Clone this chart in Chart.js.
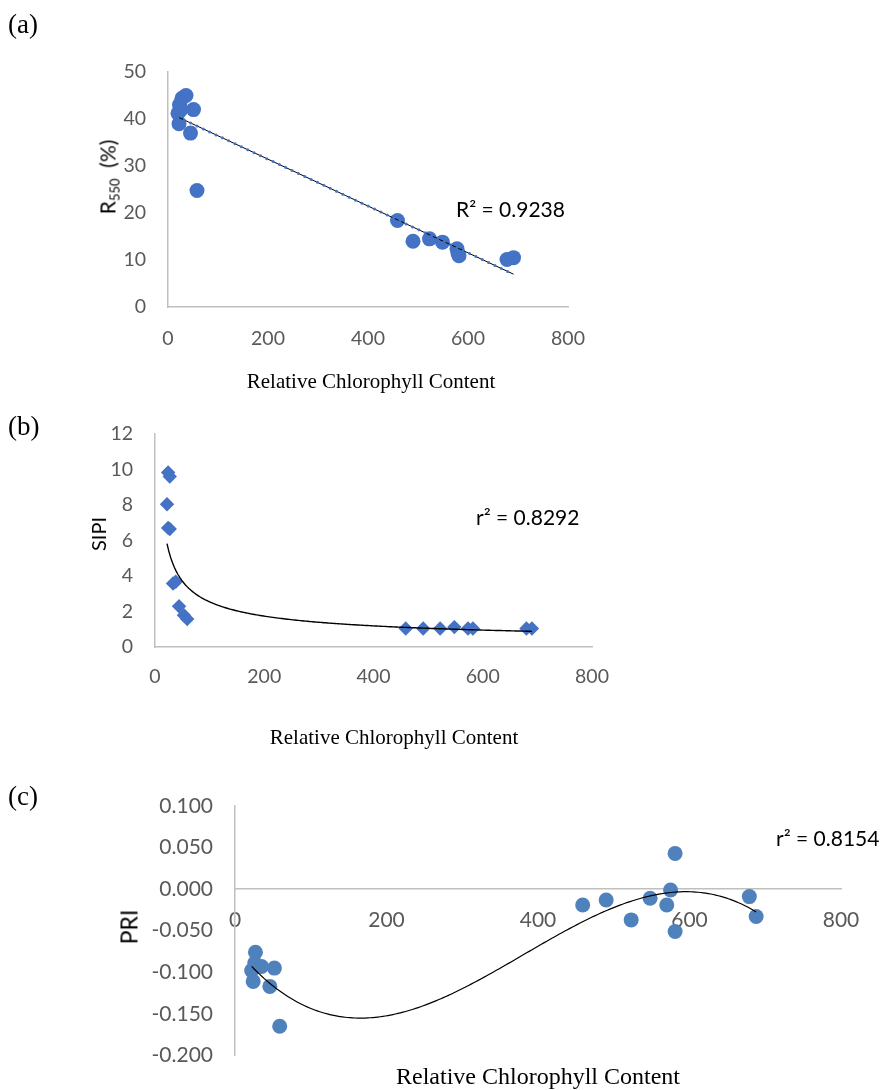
<!DOCTYPE html>
<html><head><meta charset="utf-8">
<script src="https://cdn.jsdelivr.net/npm/chart.js@4/dist/chart.umd.min.js"></script>
<style>
html,body{margin:0;padding:0;background:#fff;}
body{width:881px;height:1090px;position:relative;overflow:hidden;}
canvas{position:absolute;left:0;}
.t{position:absolute;white-space:nowrap;line-height:1;transform:translate(-50%,-50%);color:#000;}
.l{position:absolute;white-space:nowrap;line-height:1;transform:translate(0,-50%);color:#000;}
.serif{font-family:"Liberation Serif","Times New Roman",serif;}
.sans{font-family:Lato,"Open Sans",sans-serif;}
sub{font-size:0.62em;vertical-align:-0.3em;line-height:0;}
</style></head><body>
<canvas id="ca" width="881" height="400" style="top:0px"></canvas>
<canvas id="cb" width="881" height="370" style="top:400px"></canvas>
<canvas id="cc" width="881" height="320" style="top:770px"></canvas>

<div class="l serif" style="left:8px;top:24px;font-size:27px">(a)</div>
<div class="l serif" style="left:8px;top:426px;font-size:27px">(b)</div>
<div class="l serif" style="left:8px;top:796px;font-size:27px">(c)</div>

<div class="t sans" style="left:107px;top:177px;font-size:21px;transform:translate(-50%,-50%) rotate(-90deg)">R<sub>550</sub>&nbsp; (%)</div>
<div class="t sans" style="left:98px;top:534px;font-size:20px;transform:translate(-50%,-50%) rotate(-90deg)">SIPI</div>
<div class="t sans" style="left:129px;top:927px;font-size:23px;transform:translate(-50%,-50%) rotate(-90deg)">PRI</div>

<div class="t serif" style="left:371px;top:381px;font-size:21px">Relative Chlorophyll Content</div>
<div class="t serif" style="left:394px;top:737px;font-size:21px">Relative Chlorophyll Content</div>
<div class="t serif" style="left:538px;top:1076px;font-size:24px">Relative Chlorophyll Content</div>

<div class="l sans" style="left:456px;top:208px;font-size:21px">R² = 0.9238</div>
<div class="l sans" style="left:476px;top:516px;font-size:21px">r² = 0.8292</div>
<div class="l sans" style="left:776px;top:837px;font-size:21px">r² = 0.8154</div>

<script>
// ---- data ----
const xTicks = [0, 200, 400, 600, 800];

// (a) R550 (%)
const xA = [20, 23, 26, 28, 36, 51, 22, 45, 58, 459, 490, 523, 549, 578, 580, 582, 678, 691];
const yA = [41.2, 43.0, 42.0, 44.4, 45.0, 42.0, 39.0, 37.0, 24.8, 18.4, 14.0, 14.5, 13.8, 12.4, 11.4, 10.9, 10.1, 10.5];
const yTicksA = [0, 10, 20, 30, 40, 50];

// (b) SIPI
const xB = [24, 27, 22, 24, 27, 33, 38, 44, 53, 59, 459, 491, 522, 548, 573, 582, 680, 690];
const yB = [9.82, 9.59, 8.03, 6.70, 6.64, 3.57, 3.67, 2.29, 1.79, 1.57, 1.04, 1.04, 1.04, 1.12, 1.04, 1.04, 1.04, 1.04];
const yTicksB = [0, 2, 4, 6, 8, 10, 12];

// (c) PRI
const xC = [27, 26, 35, 52, 22, 24, 46, 59, 459, 490, 523, 548, 570, 575, 581, 581, 679, 688];
const yC = [-0.076, -0.089, -0.093, -0.095, -0.098, -0.111, -0.117, -0.165, -0.019, -0.013, -0.037, -0.011, -0.019, -0.001, 0.043, -0.051, -0.009, -0.033];
const yTicksC = [-0.2, -0.15, -0.1, -0.05, 0, 0.05, 0.1];

// ---- regression trendlines computed from the data ----
function linCoef(xs, ys) {
  const n = xs.length;
  const mx = xs.reduce((s, v) => s + v, 0) / n, my = ys.reduce((s, v) => s + v, 0) / n;
  let sxy = 0, sxx = 0;
  for (let i = 0; i < n; i++) { sxy += (xs[i] - mx) * (ys[i] - my); sxx += (xs[i] - mx) ** 2; }
  const b = sxy / sxx;
  return [my - b * mx, b];
}
function linFit(xs, ys) { const [a, b] = linCoef(xs, ys); return x => a + b * x; }
function powFit(xs, ys) {
  const [a, b] = linCoef(xs.map(Math.log), ys.map(Math.log));
  const c = Math.exp(a);
  return x => c * Math.pow(x, b);
}
function polyFit(xs, ys, deg) {
  const s = 100, m = deg + 1;
  const A = Array.from({length: m}, () => new Array(m + 1).fill(0));
  for (let i = 0; i < xs.length; i++) {
    const u = xs[i] / s;
    for (let r = 0; r < m; r++) {
      for (let c = 0; c < m; c++) A[r][c] += Math.pow(u, r + c);
      A[r][m] += ys[i] * Math.pow(u, r);
    }
  }
  for (let p = 0; p < m; p++) {
    let best = p;
    for (let r = p + 1; r < m; r++) if (Math.abs(A[r][p]) > Math.abs(A[best][p])) best = r;
    [A[p], A[best]] = [A[best], A[p]];
    for (let r = 0; r < m; r++) {
      if (r === p) continue;
      const f = A[r][p] / A[p][p];
      for (let c = p; c <= m; c++) A[r][c] -= f * A[p][c];
    }
  }
  const coef = A.map((row, i) => row[m] / row[i]);
  return x => coef.reduce((sum, c, k) => sum + c * Math.pow(x / s, k), 0);
}
function curve(f, xs, n) {
  const lo = Math.min(...xs), hi = Math.max(...xs);
  const pts = [];
  for (let i = 0; i <= n; i++) { const x = lo + (hi - lo) * i / n; pts.push({x, y: f(x)}); }
  return pts;
}
const pts = (xs, ys) => xs.map((x, i) => ({x, y: ys[i]}));

// ---- chart helpers ----
const AXIS = '#bfbfbf', TICK = '#595959', FONT = 'Lato';
function xScale(fs, pad, pos, h) {
  const o = {
    type: 'linear', min: 0, max: 800, position: pos,
    afterBuildTicks: s => { s.ticks = xTicks.map(v => ({value: v})); },
    ticks: {color: TICK, font: {family: FONT, size: fs}, padding: pad, autoSkip: false, maxRotation: 0},
    grid: {display: false, drawTicks: false},
    border: {display: true, color: AXIS, width: 1.5}
  };
  if (h !== undefined) o.afterFit = s => { s.height = h; };
  return o;
}
function yScale(ticks, fs, w, fmt) {
  return {
    type: 'linear', min: ticks[0], max: ticks[ticks.length - 1],
    afterBuildTicks: s => { s.ticks = ticks.map(v => ({value: v})); },
    ticks: {color: TICK, font: {family: FONT, size: fs}, padding: 22, autoSkip: false,
            callback: fmt || (v => String(v))},
    grid: {display: false, drawTicks: false},
    border: {display: true, color: AXIS, width: 1.5},
    afterFit: s => { s.width = w; }
  };
}
const base = {
  responsive: false, animation: false, devicePixelRatio: 1,
  plugins: {legend: {display: false}, tooltip: {enabled: false}},
  events: []
};

// (a)
const fitA = linFit(xA, yA);
new Chart(document.getElementById('ca'), {
  type: 'scatter',
  data: {datasets: [
    {type: 'line', data: curve(fitA, xA, 2), borderColor: '#4472C4', borderWidth: 3,
     borderDash: [0, 7], borderCapStyle: 'round', pointRadius: 0, order: 0},
    {type: 'line', data: curve(fitA, xA, 2), borderColor: '#000', borderWidth: 1,
     pointRadius: 0, order: 1},
    {data: pts(xA, yA), backgroundColor: '#4472C4', borderColor: '#4472C4', borderWidth: 0,
     pointRadius: 7.5, pointStyle: 'circle', order: 2}
  ]},
  options: Object.assign({}, base, {
    layout: {padding: {left: 0, top: 72, right: 313, bottom: 43}},
    scales: {x: xScale(19.5, 20, 'bottom', 50), y: yScale(yTicksA, 19.5, 168)}
  })
});

// (b)
const fitB = powFit(xB, yB);
new Chart(document.getElementById('cb'), {
  type: 'scatter',
  data: {datasets: [
    {type: 'line', data: curve(fitB, xB, 200), borderColor: '#000', borderWidth: 1.4,
     pointRadius: 0, tension: 0, order: 0},
    {data: pts(xB, yB), backgroundColor: '#4472C4', borderColor: '#4472C4', borderWidth: 0,
     pointRadius: 7.2, pointStyle: 'rectRot', order: 1}
  ]},
  options: Object.assign({}, base, {
    layout: {padding: {left: 0, top: 23, right: 289, bottom: 73}},
    scales: {x: xScale(19.5, 18, 'bottom', 50), y: yScale(yTicksB, 19.5, 155)}
  })
});

// (c)
const fitC = polyFit(xC, yC, 3);
new Chart(document.getElementById('cc'), {
  type: 'scatter',
  data: {datasets: [
    {type: 'line', data: curve(fitC, xC, 200), borderColor: '#000', borderWidth: 1.2,
     pointRadius: 0, tension: 0, order: 0},
    {data: pts(xC, yC), backgroundColor: '#4F81BD', borderColor: '#4F81BD', borderWidth: 0,
     pointRadius: 7.5, pointStyle: 'circle', order: 1}
  ]},
  options: Object.assign({}, base, {
    layout: {padding: {left: 0, top: 36, right: 40, bottom: 33}},
    scales: {
      x: xScale(21, 19, {y: 0}),
      y: yScale(yTicksC, 21, 235, v => Math.abs(v) < 1e-9 ? '0.000' : Number(v).toFixed(3))
    }
  })
});
</script>
</body></html>
